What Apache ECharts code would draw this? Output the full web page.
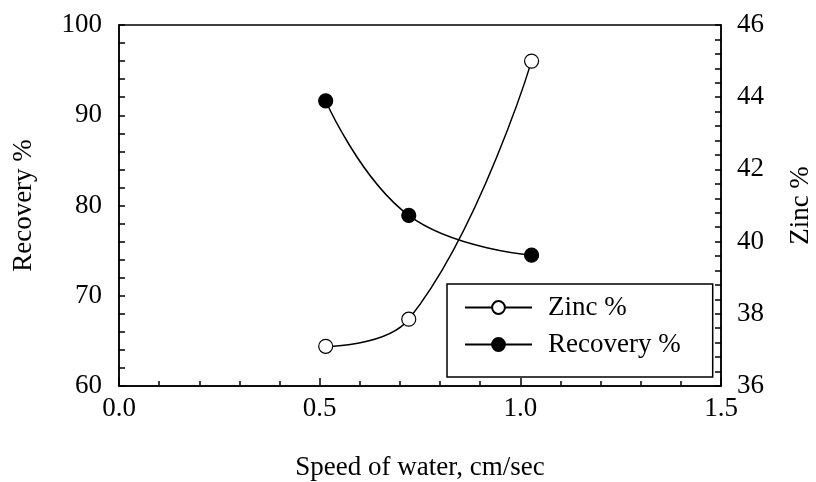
<!DOCTYPE html>
<html><head><meta charset="utf-8">
<script src="https://cdn.jsdelivr.net/npm/echarts@6/dist/echarts.min.js"></script>
<style>html,body{margin:0;padding:0;background:#fff}#c{width:816px;height:482px}</style>
</head><body><div id="c"></div>
<script>
const speed = [0.515, 0.722, 1.028];
const zincPct = [37.1, 37.85, 45.0];
const recoveryPct = [91.6, 78.9, 74.5];
const seriesNames = ['Zinc %', 'Recovery %'];
const xTitle = 'Speed of water, cm/sec';
const leftTitle = 'Recovery %';
const rightTitle = 'Zinc %';

const font = 'Liberation Serif';
const fs = 27;
const chart = echarts.init(document.getElementById('c'));
const axisCommon = {
  axisLine: {show: true, lineStyle: {color: '#000', width: 1.5}},
  axisLabel: {color: '#000', fontFamily: font, fontSize: fs},
  splitLine: {show: false},
  nameTextStyle: {color: '#000', fontFamily: font, fontSize: fs}
};
chart.setOption({
  animation: false,
  backgroundColor: '#fff',
  grid: {left: 119, right: 95, top: 25, bottom: 96, containLabel: false, outerBoundsMode: 'none',
         show: true, borderColor: '#000', borderWidth: 1.5},
  legend: {
    orient: 'vertical', left: 447, top: 284,
    padding: [10, 32, 19, 17],
    borderColor: '#000', borderWidth: 1.5,
    itemWidth: 67, itemHeight: 16, itemGap: 10,
    textStyle: {color: '#000', fontFamily: font, fontSize: fs, padding: [0, 0, 0, 11]},
    data: seriesNames
  },
  xAxis: Object.assign({}, axisCommon, {
    type: 'value', min: 0, max: 1.5, interval: 0.5,
    name: xTitle, nameLocation: 'middle', nameGap: 68,
    axisTick: {show: true, inside: true, length: 8, lineStyle: {color: '#000', width: 1.5}},
    minorTick: {show: true, splitNumber: 5, length: 5, lineStyle: {color: '#000', width: 1.5}},
    axisLabel: Object.assign({}, axisCommon.axisLabel, {margin: 9, formatter: v => v.toFixed(1)})
  }),
  yAxis: [
    Object.assign({}, axisCommon, {
      type: 'value', min: 60, max: 100, interval: 10, position: 'left',
      name: leftTitle, nameLocation: 'middle', nameGap: 82, nameRotate: 90,
      axisTick: {show: true, inside: true, length: 6, lineStyle: {color: '#000', width: 1.5}},
      minorTick: {show: true, splitNumber: 5, length: 6, lineStyle: {color: '#000', width: 1.5}},
      axisLabel: Object.assign({}, axisCommon.axisLabel, {margin: 17})
    }),
    Object.assign({}, axisCommon, {
      type: 'value', min: 36, max: 46, interval: 2, position: 'right',
      name: rightTitle, nameLocation: 'middle', nameGap: 66, nameRotate: 90,
      axisTick: {show: true, inside: true, length: 6, lineStyle: {color: '#000', width: 1.5}},
      minorTick: {show: true, splitNumber: 5, length: 6, lineStyle: {color: '#000', width: 1.5}},
      axisLabel: Object.assign({}, axisCommon.axisLabel, {margin: 16})
    })
  ],
  series: [
    {
      name: seriesNames[0], type: 'line', yAxisIndex: 1, smooth: 0.45,
      data: speed.map((x, i) => [x, zincPct[i]]),
      symbol: 'circle', symbolSize: 14,
      lineStyle: {color: '#000', width: 1.5},
      itemStyle: {color: '#fff', borderColor: '#000', borderWidth: 1.2}
    },
    {
      name: seriesNames[1], type: 'line', yAxisIndex: 0, smooth: 0.45,
      data: speed.map((x, i) => [x, recoveryPct[i]]),
      symbol: 'circle', symbolSize: 14,
      lineStyle: {color: '#000', width: 1.5},
      itemStyle: {color: '#000', borderColor: '#000', borderWidth: 1.2}
    }
  ]
});
</script></body></html>
